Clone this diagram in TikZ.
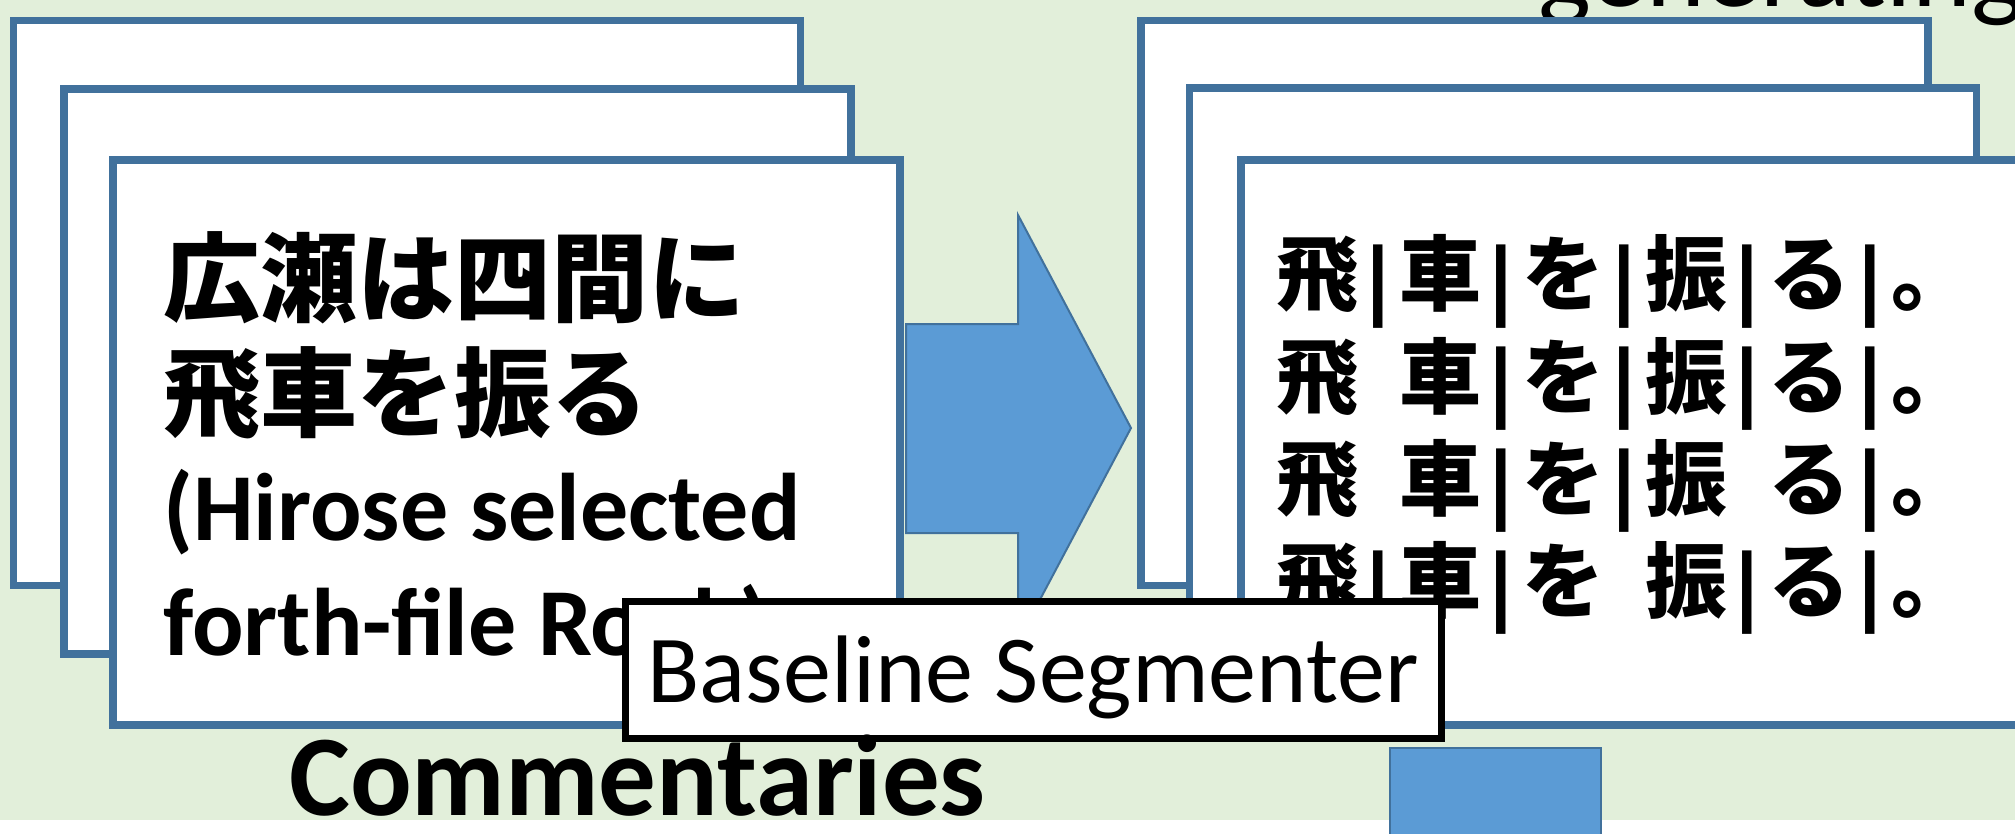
\documentclass[tikz,border=0pt]{standalone}
\usepackage{fontspec}
\usepackage{graphicx}
\setmainfont{Carlito}
\newfontfamily\jp{Noto Sans CJK JP}
\definecolor{bggreen}{HTML}{E2EFDA}
\definecolor{boxblue}{HTML}{41719C}
\definecolor{arrowblue}{HTML}{5B9BD5}
\newcommand\segbar{\makebox[0.5em]{\raisebox{-0.03em}{\scalebox{1}[0.89]{|}}}}
\newcommand\segsp{\hspace*{0.5em}}
\tikzset{
  page/.style={draw=boxblue, line width=7.5pt, fill=white, minimum width=787pt, minimum height=565pt, inner sep=0pt},
  ljp/.style={anchor=base west, inner sep=0pt, font=\jp\bfseries\fontsize{97pt}{97pt}\selectfont},
  len/.style={anchor=base west, inner sep=0pt, font=\bfseries\fontsize{96pt}{96pt}\selectfont},
  rjp/.style={anchor=base west, inner sep=0pt, font=\jp\bfseries\fontsize{82pt}{82pt}\selectfont},
  bigarrow/.style={fill=arrowblue, draw=boxblue, line width=2pt},
  segbox/.style={draw=black, line width=7pt, fill=white, minimum width=816pt, minimum height=137pt, inner sep=0pt, text height=100pt, text depth=35pt, font=\fontsize{96pt}{96pt}\selectfont}
}
\begin{document}
\begin{tikzpicture}[x=1pt,y=-1pt]
\useasboundingbox (0,0) rectangle (2015,834);
\clip (0,0) rectangle (2015,834);
\fill[white] (0,0) rectangle (2015,834);
\fill[bggreen] (0,0) rectangle (2015,820);
% top-right partial title
\node[anchor=base east, inner sep=0pt, font=\fontsize{112pt}{112pt}\selectfont] (gen) at (2024,7) {generating};
% left stack
\node[page] (lp1) at (407,303) {};
\node[page] (lp2) at (457.5,371.5) {};
\node[page] (lp3) at (506.5,442.5) {};
\node[ljp] (l1) at (163,314) {広瀬は四間に};
\node[ljp] (l2) at (163,429) {飛車を振る};
\node[len] (l3) at (163,540) {(Hirose selected};
\node[len] (l4) at (163,655) {forth-file Rook)};
% right stack
\node[page] (rp1) at (1534.5,303) {};
\node[page] (rp2) at (1583,370.5) {};
\node[page] (rp3) at (1634.5,442.5) {};
\node[rjp] (s1) at (1276,305) {飛\segbar 車\segbar を\segbar 振\segbar る\segbar 。};
\node[rjp] (s2) at (1276,407) {飛\segsp 車\segbar を\segbar 振\segbar る\segbar 。};
\node[rjp] (s3) at (1276,509) {飛\segsp 車\segbar を\segbar 振\segsp る\segbar 。};
\node[rjp] (s4) at (1276,611) {飛\segbar 車\segbar を\segsp 振\segbar る\segbar 。};
% block arrow
\draw[bigarrow] (906,324) -- (1018,324) -- (1018,215) -- (1131,428) -- (1018,641) -- (1018,533) -- (906,533) -- cycle;
% lower arrow shaft
\draw[bigarrow] (1390,748) rectangle (1601,850);
% segmenter box
\node[segbox] (seg) at (1033,669.5) {Baseline Segmenter};
% caption
\node[anchor=base west, inner sep=0pt, font=\bfseries\fontsize{115pt}{115pt}\selectfont] (comm) at (289,815) {Commentaries};
\end{tikzpicture}
\end{document}
